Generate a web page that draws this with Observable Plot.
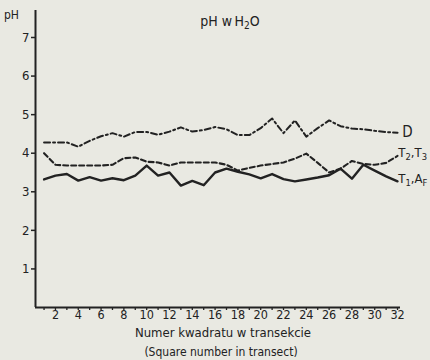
<!DOCTYPE html>
<html>
<head>
<meta charset="utf-8">
<script src="https://cdn.jsdelivr.net/npm/d3@7"></script>
<script src="https://cdn.jsdelivr.net/npm/@observablehq/plot@0.6"></script>
<style>
  html, body { margin: 0; padding: 0; background: #e9e9e2; }
  #chart svg { display: block; }
</style>
</head>
<body>
<div id="chart"></div>
<script>
const squares = d3.range(1, 33);
const seriesD = [4.28,4.28,4.28,4.17,4.32,4.44,4.52,4.43,4.55,4.55,4.48,4.56,4.67,4.56,4.60,4.68,
                 4.62,4.47,4.47,4.65,4.90,4.52,4.85,4.43,4.65,4.85,4.70,4.64,4.62,4.58,4.55,4.53];
const seriesT23 = [4.00,3.70,3.68,3.68,3.68,3.68,3.70,3.87,3.89,3.78,3.76,3.68,3.76,3.76,3.76,3.76,
                   3.70,3.55,3.62,3.68,3.72,3.76,3.86,3.99,3.75,3.50,3.60,3.80,3.72,3.70,3.75,3.93];
const seriesT1AF = [3.32,3.42,3.46,3.29,3.38,3.29,3.35,3.30,3.42,3.68,3.42,3.50,3.16,3.28,3.17,3.50,
                    3.60,3.52,3.45,3.35,3.46,3.33,3.27,3.32,3.37,3.43,3.60,3.34,3.70,3.55,3.40,3.27];
const yTicks = [1,2,3,4,5,6,7];
const xLabelTicks = d3.range(2, 33, 2);

const ink = "#222222";
const toRows = (vals) => squares.map((n, i) => ({n, v: vals[i]}));
const xDomain = [0.25, 32.26];
const yDomain = [0, 7.7];
const font = "'DejaVu Sans Condensed', 'DejaVu Sans', sans-serif";

const plot = Plot.plot({
  width: 430,
  height: 360,
  marginLeft: 35,
  marginRight: 30,
  marginTop: 10,
  marginBottom: 53,
  style: {background: "#e9e9e2", color: ink, fontFamily: font, fontSize: "13px"},
  x: {domain: xDomain},
  y: {domain: yDomain},
  marks: [
    Plot.axisY(yTicks, {tickSize: 4, tickPadding: 2, label: null, fontSize: 13, strokeWidth: 1.5}),
    Plot.axisX(squares, {tickSize: 3, text: null, label: null, strokeWidth: 1.3}),
    Plot.axisX(xLabelTicks, {tickSize: 0, tickPadding: 3, label: null, fontSize: 12.5}),
    Plot.ruleX([xDomain[0]], {y1: 0, y2: yDomain[1], stroke: ink, strokeWidth: 2}),
    Plot.ruleY([0], {x1: xDomain[0], x2: xDomain[1], stroke: ink, strokeWidth: 2}),
    Plot.line(toRows(seriesD), {x: "n", y: "v", stroke: ink, strokeWidth: 2, strokeDasharray: "6,3,2,3"}),
    Plot.line(toRows(seriesT23), {x: "n", y: "v", stroke: ink, strokeWidth: 2.1, strokeDasharray: "5,3"}),
    Plot.line(toRows(seriesT1AF), {x: "n", y: "v", stroke: ink, strokeWidth: 2.4})
  ]
});
document.getElementById("chart").appendChild(plot);

const svg = d3.select(plot);
const xs = plot.scale("x"), ys = plot.scale("y");

function richText(x, y, parts, size, anchor) {
  const t = svg.append("text").attr("x", x).attr("y", y)
    .attr("fill", ink).attr("font-family", font).attr("font-size", size)
    .attr("text-anchor", anchor || "start").attr("dominant-baseline", "middle");
  let down = false;
  parts.forEach(([s, sub]) => {
    const ts = t.append("tspan").text(s);
    if (sub && !down) { ts.attr("font-size", size * 0.72).attr("dy", 4); down = true; }
    else if (sub) { ts.attr("font-size", size * 0.72); }
    else if (down) { ts.attr("dy", -4); down = false; }
  });
  return t;
}

// series labels at line ends
richText(xs.apply(32.2) + 3, ys.apply(4.53), [["D", false]], 15);
richText(xs.apply(32.2) - 1, ys.apply(3.98), [["T", false], ["2", true], [",T", false], ["3", true]], 13);
richText(xs.apply(32.2) - 1, ys.apply(3.33), [["T", false], ["1", true], [",A", false], ["F", true]], 13);

// title and axis titles
richText(230, 22, [["pH w", false], ["\u2009", false], ["H", false], ["2", true], ["O", false]], 14, "middle");
richText(4, 15, [["pH", false]], 12);
svg.append("text").attr("x", 223).attr("y", 337).attr("text-anchor", "middle")
  .attr("fill", ink).attr("font-family", font).attr("font-size", 13).text("Numer kwadratu w transekcie");
svg.append("text").attr("x", 221).attr("y", 356).attr("text-anchor", "middle")
  .attr("fill", ink).attr("font-family", font).attr("font-size", 12).text("(Square number in transect)");
</script>
</body>
</html>
